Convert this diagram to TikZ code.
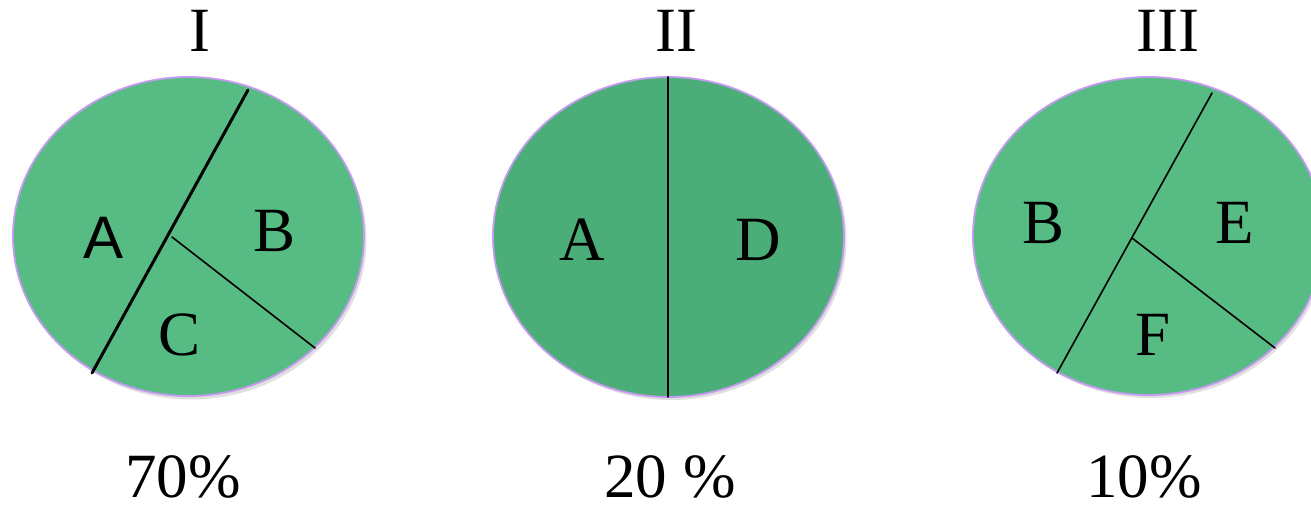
\documentclass[tikz,border=0pt]{standalone}
\usepackage{fontspec}
\setmainfont{Liberation Serif}
\newfontfamily\labelsans{Liberation Sans}
\definecolor{pielight}{HTML}{57BB84}
\definecolor{piedark}{HTML}{4BAE78}
\definecolor{pieedge}{HTML}{C69AF0}
\begin{document}
\begin{tikzpicture}[x=1pt,y=-1pt,
		pie/.style={draw=pieedge,line width=1.8pt},
		shade pie/.style={fill=black,opacity=0.12},
		txt/.style={inner sep=0pt,font=\fontsize{63}{63}\selectfont},
		cut/.style={line width=1.6pt,line cap=round},
		thickcut/.style={line width=3pt,line cap=round}]
		\useasboundingbox (0,0) rectangle (1311,507);
		% shadows
		\fill[shade pie] (191,240) ellipse [x radius=175.5pt,y radius=159.5pt];
		\fill[shade pie] (671,240) ellipse [x radius=175.5pt,y radius=160pt];
		\fill[shade pie] (1151,239) ellipse [x radius=175.5pt,y radius=159pt];
		% pie I
		\draw[pie,fill=pielight] (188.5,236.5) ellipse [x radius=175.5pt,y radius=159.5pt];
		\coordinate (Itop) at (248,90);
		\coordinate (Ibot) at (92,373);
		\coordinate (Imid) at (172,237);
		\coordinate (Iend) at (315,348);
		\draw[thickcut] (Itop) -- (Ibot);
		\draw[cut] (Imid) -- (Iend);
		% pie II
		\draw[pie,fill=piedark] (668.5,237) ellipse [x radius=175.5pt,y radius=160pt];
		\coordinate (IItop) at (668,77);
		\coordinate (IIbot) at (668,397);
		\draw[cut] (IItop) -- (IIbot);
		% pie III
		\draw[pie,fill=pielight] (1148.5,236) ellipse [x radius=175.5pt,y radius=159pt];
		\coordinate (IIItop) at (1212,93);
		\coordinate (IIIbot) at (1057,373);
		\coordinate (IIImid) at (1132,238);
		\coordinate (IIIend) at (1275,348);
		\draw[cut] (IIItop) -- (IIIbot);
		\draw[cut] (IIImid) -- (IIIend);
		\path[txt]
		(200,31) node[txt] (titleI) {I}
		(676,31) node[txt] (titleII) {II}
		(1168,31) node[txt] (titleIII) {III}
		(104,238) node[txt,font=\labelsans\fontsize{60}{60}\selectfont] (IA) {A}
		(275,231) node[txt] (IB) {B}
		(180,335) node[txt] (IC) {C}
		(582,240) node[txt] (IIA) {A}
		(758,240) node[txt] (IID) {D}
		(1043,223) node[txt] (IIIB) {B}
		(1235,223) node[txt] (IIIE) {E}
		(1153,335) node[txt] (IIIF) {F}
		(183,477) node[txt] (pctI) {70\%}
		(670,477) node[txt] (pctII) {20 \%}
		(1144,477) node[txt] (pctIII) {10\%}
		;
\end{tikzpicture}
\end{document}
